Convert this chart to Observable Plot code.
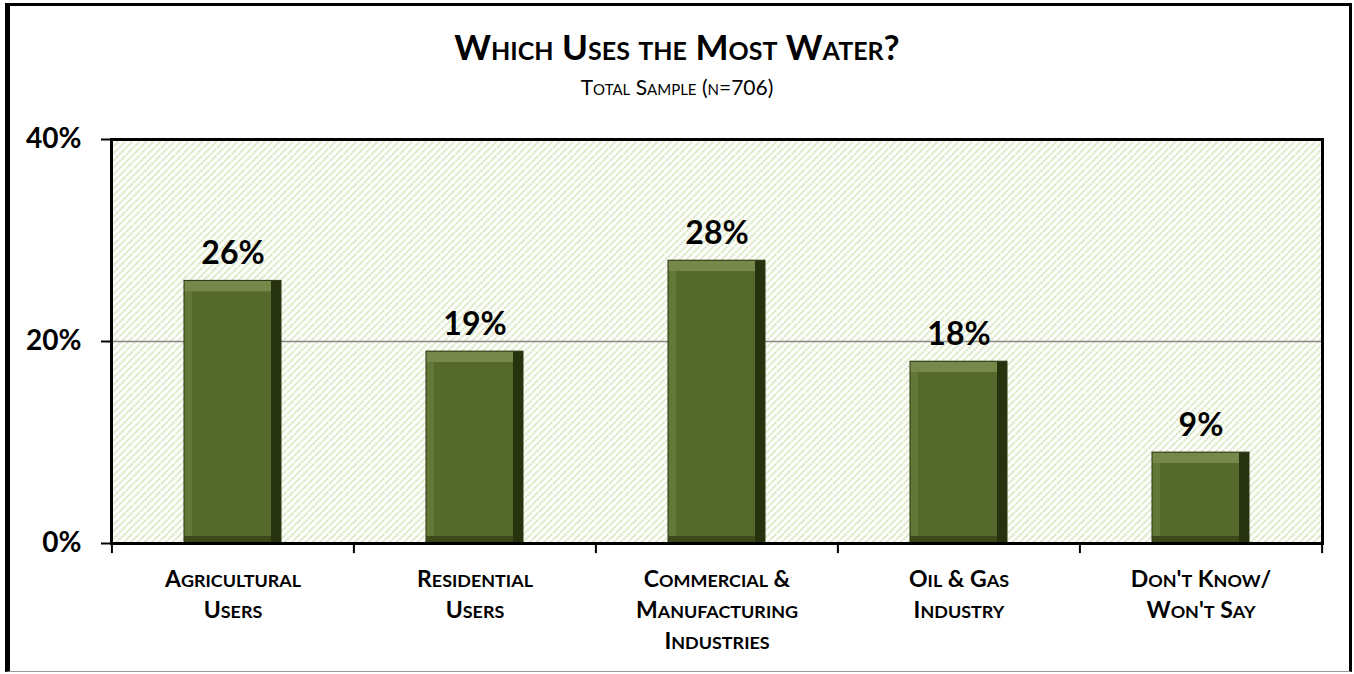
<!DOCTYPE html>
<html>
<head>
<meta charset="utf-8">
<script src="https://cdn.jsdelivr.net/npm/d3@7"></script>
<script src="https://cdn.jsdelivr.net/npm/@observablehq/plot@0.6"></script>
<style>
  html, body { margin: 0; padding: 0; background: #fff; }
  #wrap { position: relative; width: 1354px; height: 674px; overflow: hidden; font-family: Lato, "Open Sans", sans-serif; }
  #border { position: absolute; left: 5px; top: 3px; width: 1339px; height: 665px;
            border-left: 5px solid #000; border-top: 3px solid #000; border-right: 3px solid #000; border-bottom: 1px solid #999; }
  #title { position: absolute; left: 0; width: 100%; top: 26px; text-align: center;
           font-weight: bold; font-size: 35px; line-height: 40px; font-variant: small-caps; color: #000; }
  #subtitle { position: absolute; left: 0; width: 100%; top: 74px; text-align: center;
              font-size: 21px; line-height: 26px; font-variant: small-caps; color: #000; }
  #chart { position: absolute; left: 0; top: 0; }
</style>
</head>
<body>
<div id="wrap">
  <div id="border"></div>
  <div id="chart"></div>
  <div id="title">Which Uses the Most Water?</div>
  <div id="subtitle">Total Sample (n=706)</div>
</div>
<script>
const categories = ["Agricultural\nUsers", "Residential\nUsers", "Commercial &\nManufacturing\nIndustries", "Oil & Gas\nIndustry", "Don't Know/\nWon't Say"];
const values = [26, 19, 28, 18, 9];
const yTicks = [0, 20, 40];
const gridLines = [20];

const data = categories.map((c, i) => ({cat: c, value: values[i]}));
const W = 1354, H = 674, ML = 111, MR = 32, MT = 139, MB = 131;
const step = (W - ML - MR) / categories.length;
const lastCat = [categories[categories.length - 1]];

const chart = Plot.plot({
  width: W, height: H,
  marginLeft: ML, marginRight: MR, marginTop: MT, marginBottom: MB,
  style: {fontFamily: "Lato, 'Open Sans', sans-serif", background: "transparent", color: "#000", overflow: "visible"},
  x: {domain: categories, paddingInner: 0.6, paddingOuter: 0.3, label: null},
  y: {domain: [0, 40], label: null},
  marks: [
    Plot.frame({fill: "url(#diag)", stroke: "none"}),
    Plot.ruleY(gridLines, {stroke: "#8a8a8a", strokeWidth: 1.3}),
    // bevelled bars: layered
    Plot.barY(data, {x: "cat", y: "value", fill: "#27320f"}),
    Plot.barY(data, {x: "cat", y: "value", fill: "#3c4a1b", insetRight: 10}),
    Plot.barY(data, {x: "cat", y: "value", fill: "#76894a", insetRight: 10, insetBottom: 7}),
    Plot.barY(data, {x: "cat", y: "value", fill: "#617836", insetRight: 10, insetBottom: 7, insetTop: 11}),
    Plot.barY(data, {x: "cat", y: "value", fill: "#56692d", insetRight: 10, insetBottom: 7, insetTop: 11, insetLeft: 8}),
    Plot.barY(data, {x: "cat", y: "value", fill: "none", stroke: "#2a3511", strokeWidth: 1}),
    Plot.text(data, {x: "cat", y: "value", text: d => d.value + "%", lineAnchor: "bottom", dy: -17,
                     fontSize: 32, fontWeight: "bold", fill: "#000"}),
    Plot.frame({stroke: "#000", strokeWidth: 3}),
    // x boundary ticks
    Plot.ruleX(categories, {x: d => d, y1: 0, y2: -1, dx: -step / 2, stroke: "#000", strokeWidth: 2}),
    Plot.ruleX(lastCat, {x: d => d, y1: 0, y2: -1, dx: step / 2, stroke: "#000", strokeWidth: 2}),
    Plot.axisY({ticks: yTicks, tickFormat: d => d + "%", tickSize: 10, tickPadding: 20, label: null,
                fontSize: 28, fontWeight: "bold", stroke: "#000", strokeWidth: 2, fill: "#000"}),
    Plot.axisX({tickSize: 0, tickPadding: 21, fontSize: 23, fontWeight: "bold", lineHeight: 1.35, label: null,
                fill: "#000", className: "xlab"})
  ]
});

d3.select(chart).insert("defs", ":first-child").html(`
  <pattern id="diag" patternUnits="userSpaceOnUse" width="7" height="7">
    <rect width="7" height="7" fill="#ffffff"/>
    <path d="M-2,2 l4,-4 M0,7 l7,-7 M5,9 l4,-4" stroke="#c9dba8" stroke-width="1.8" stroke-dasharray="2,1"/>
  </pattern>`);

// manual small caps for x labels (lowercase letters shown as smaller capitals)
function smallCaps(node) {
  const s = node.textContent;
  while (node.firstChild) node.removeChild(node.firstChild);
  const runs = s.match(/[a-z]+|[^a-z]+/g) || [];
  for (const r of runs) {
    const t = document.createElementNS("http://www.w3.org/2000/svg", "tspan");
    t.textContent = r.toUpperCase();
    if (/[a-z]/.test(r)) t.setAttribute("font-size", "0.78em");
    node.appendChild(t);
  }
}
d3.select(chart).selectAll(".xlab text").each(function() {
  const lines = this.querySelectorAll("tspan");
  if (lines.length) lines.forEach(smallCaps); else smallCaps(this);
});
document.getElementById("chart").appendChild(chart);
</script>
</body>
</html>
